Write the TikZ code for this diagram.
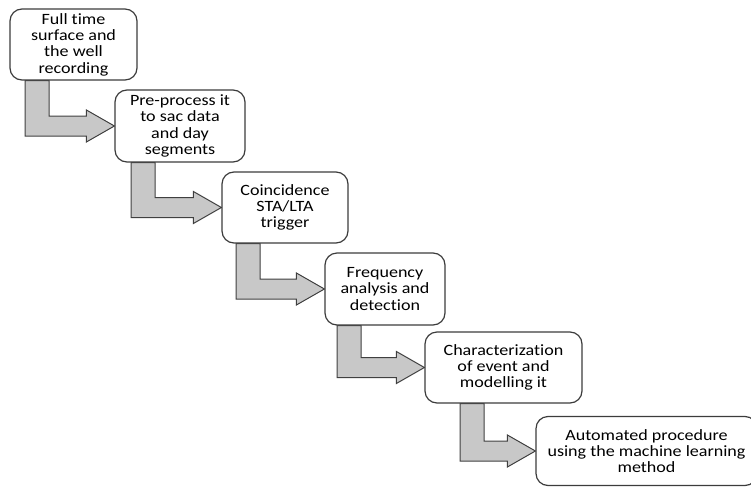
\documentclass[tikz,border=0pt]{standalone}
\usepackage{fontspec}
\setmainfont{Carlito}[FakeStretch=1.15, Ligatures=NoCommon]
\usetikzlibrary{calc}
\pgfdeclarelayer{background}
\pgfsetlayers{background,main}
\definecolor{boxline}{HTML}{3C3C3C}
\definecolor{arrfill}{HTML}{C8C8C8}
\definecolor{arrline}{HTML}{404040}
\newcommand\myboxfont{\fontsize{15.7}{16.3}\selectfont\setlength{\lineskiplimit}{-20pt}}
\tikzset{
  stepbox/.style={draw=boxline, line width=1.2pt, rounded corners=12pt, fill=white,
    align=center, inner sep=0pt, font=\myboxfont},
  arrowshape/.style={draw=arrline, fill=arrfill, line width=1pt, line join=miter}
}
\newcommand\bentarrow[3]{%
  \coordinate (sl) at (#3,0);
  \coordinate (sr) at (#3+24,0);
  \coordinate (tu) at ([yshift=10pt]#2.west);
  \coordinate (td) at ([yshift=-10pt]#2.west);
  \begin{pgfonlayer}{background}
  \draw[arrowshape] (sl |- #1.south) -- (sr |- #1.south) -- (sr |- tu)
    -- ([xshift=-28pt]tu) -- ([xshift=-28pt,yshift=6pt]tu) -- (#2.west)
    -- ([xshift=-28pt,yshift=-6pt]td) -- ([xshift=-28pt]td) -- (sl |- td) -- cycle;
  \end{pgfonlayer}}
\begin{document}
\begin{tikzpicture}[x=1pt,y=-1pt]
\useasboundingbox (0,0) rectangle (751,487);
\node[stepbox, minimum width=127pt, minimum height=71pt] (b1) at (73.5,44.5)
  {Full time\\surface and\\the well\\recording};
\node[stepbox, minimum width=130pt, minimum height=72pt] (b2) at (180,126)
  {Pre-process it\\to sac data\\and day\\segments};
\node[stepbox, minimum width=126pt, minimum height=71pt] (b3) at (285,207.5)
  {Coincidence\\STA/LTA\\trigger};
\node[stepbox, minimum width=120pt, minimum height=72pt] (b4) at (385,289)
  {Frequency\\analysis and\\detection};
\node[stepbox, minimum width=157pt, minimum height=71pt] (b5) at (503.5,367.5)
  {Characterization\\of event and\\modelling it};
\node[stepbox, minimum width=221pt, minimum height=69pt] (b6) at (646.5,451)
  {Automated procedure\\using the machine learning\\method};
\bentarrow{b1}{b2}{25}
\bentarrow{b2}{b3}{131}
\bentarrow{b3}{b4}{236}
\bentarrow{b4}{b5}{337}
\bentarrow{b5}{b6}{460}
\end{tikzpicture}
\end{document}
